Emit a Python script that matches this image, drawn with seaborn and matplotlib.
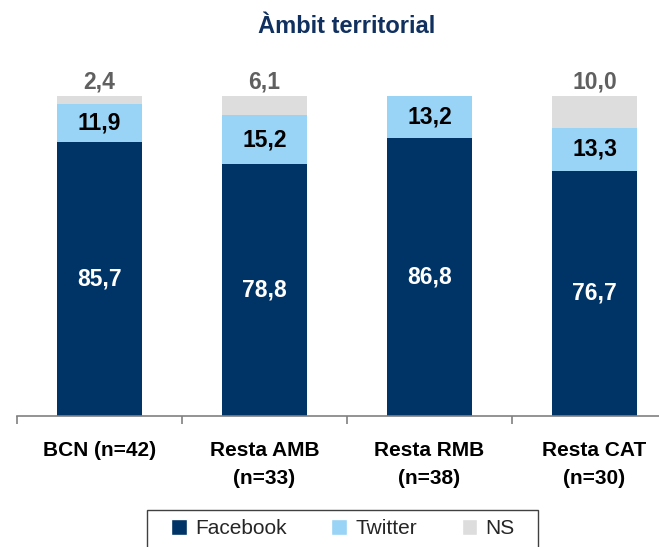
import numpy as np
import pandas as pd
import seaborn as sns
import matplotlib.pyplot as plt
from matplotlib.patches import Patch, Rectangle

# data
categories = ['BCN (n=42)', 'Resta AMB\n(n=33)', 'Resta RMB\n(n=38)', 'Resta CAT\n(n=30)']
facebook = [85.7, 78.8, 86.8, 76.7]
twitter = [11.9, 15.2, 13.2, 13.3]
ns = [2.4, 6.1, 0.0, 10.0]

col_fb = '#003366'
col_tw = '#99D3F6'
col_ns = '#DDDDDD'

sns.set_theme(style='white')
plt.rcParams['font.family'] = ['Liberation Sans', 'DejaVu Sans']

df = pd.DataFrame({'cat': categories, 'Facebook': facebook, 'Twitter': twitter, 'NS': ns})
df['fb_tw'] = df['Facebook'] + df['Twitter']
df['total'] = df['fb_tw'] + df['NS']

W, H = 659, 547
fig = plt.figure(figsize=(W / 100, H / 100), dpi=100)
ax = fig.add_axes([17 / W, (H - 416) / H, 660 / W, 320 / H])

# stacked bars drawn from the top down
sns.barplot(data=df, x='cat', y='total', color=col_ns, saturation=1, width=0.515,
            errorbar=None, ax=ax, linewidth=0)
sns.barplot(data=df, x='cat', y='fb_tw', color=col_tw, saturation=1, width=0.515,
            errorbar=None, ax=ax, linewidth=0)
sns.barplot(data=df, x='cat', y='Facebook', color=col_fb, saturation=1, width=0.515,
            errorbar=None, ax=ax, linewidth=0)

ax.set_ylim(0, 100)
ax.set_xlim(-0.5, 3.5)
ax.set_xlabel('')
ax.set_ylabel('')
ax.set_yticks([])
for s in ['top', 'left', 'right']:
    ax.spines[s].set_visible(False)
ax.spines['bottom'].set_color('#808080')
ax.spines['bottom'].set_linewidth(1.2)

# boundaries as major ticks, labels on minor ticks
ax.set_xticks([-0.5, 0.5, 1.5, 2.5, 3.5])
ax.set_xticklabels([])
ax.tick_params(axis='x', which='major', bottom=True, length=6, width=1.2, color='#808080', direction='out')
ax.set_xticks(range(4), minor=True)
ax.set_xticklabels(categories, minor=True, fontsize=15, fontweight='bold', color='black',
                   linespacing=1.6)
ax.tick_params(axis='x', which='minor', length=0, pad=18)

# value labels
for i, row in df.iterrows():
    ax.text(i, row['Facebook'] / 2, f"{row['Facebook']:.1f}".replace('.', ','),
            ha='center', va='center', color='white', fontsize=16.5, fontweight='bold')
    ax.text(i, row['Facebook'] + row['Twitter'] / 2, f"{row['Twitter']:.1f}".replace('.', ','),
            ha='center', va='center', color='black', fontsize=16.5, fontweight='bold')
    if row['NS'] > 0:
        ax.text(i, row['total'] + 4.3, f"{row['NS']:.1f}".replace('.', ','),
                ha='center', va='center', color='#606060', fontsize=16.5, fontweight='bold')

fig.text(347 / W, 1 - 33 / H, 'Àmbit territorial', ha='center', va='baseline',
         fontsize=17, fontweight='bold', color='#10305F')

# legend box (bottom runs off the figure)
fig.patches.append(Rectangle((147 / W, -0.05), (538 - 147) / W, 0.05 + (H - 510) / H,
                             transform=fig.transFigure, facecolor='white',
                             edgecolor='#404040', linewidth=1.0))
handles = [Patch(facecolor=col_fb, label='Facebook'),
           Patch(facecolor=col_tw, label='Twitter'),
           Patch(facecolor=col_ns, label='NS')]
leg = fig.legend(handles=handles, loc='center left', bbox_to_anchor=(171 / W, 1 - 528.5 / H),
                 ncol=3, fontsize=15, frameon=False, handlelength=0.75,
                 handleheight=0.8, handletextpad=0.4, columnspacing=2.15, borderpad=0,
                 borderaxespad=0)

fig.savefig('out.png', dpi=100)
